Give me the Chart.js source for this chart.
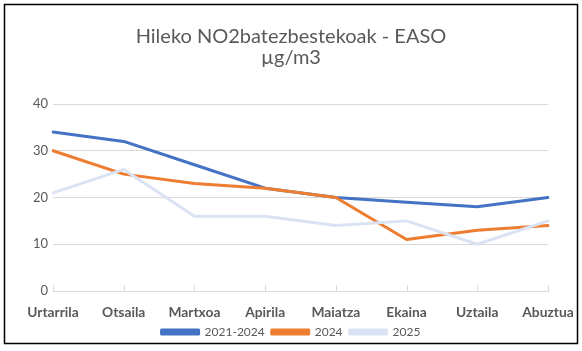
<!DOCTYPE html>
<html>
<head>
<meta charset="utf-8">
<script src="https://cdn.jsdelivr.net/npm/chart.js@4"></script>
<style>
  html, body { margin: 0; padding: 0; background: #fff; }
  #wrap { position: relative; width: 582px; height: 351px; }
</style>
</head>
<body>
<div id="wrap"><canvas id="chartNo2" width="582" height="351"></canvas></div>
<script>
// hilabeteak eta balioak
var hilabeteak  =   ['Urtarrila', 'Otsaila', 'Martxoa', 'Apirila', 'Maiatza', 'Ekaina', 'Uztaila', 'Abuztua'];
var serie2124   =   [34, 32, 27, 22, 20, 19, 18, 20];
var serie2024   =   [30, 25, 23, 22, 20, 11, 13, 14];
var serie2025   =   [21, 26, 16, 16, 14, 15, 10, 15];
var yTicks      =   [0, 10, 20, 30, 40];

var labelColor  =   '#595959';
var gridColor   =   '#D9D9D9';

// Excel style: small tick marks going up from the x axis
var xTickMarks = {
    id: 'xTickMarks',
    beforeDatasetsDraw(chart) {
        var ctx = chart.ctx;
        var x = chart.scales.x;
        var bottom = chart.chartArea.bottom;
        ctx.save();
        ctx.strokeStyle = gridColor;
        ctx.lineWidth = 1;
        x.ticks.forEach((t, i) => {
            var px = Math.round(x.getPixelForTick(i)) + 0.5;
            ctx.beginPath();
            ctx.moveTo(px, bottom - 6);
            ctx.lineTo(px, bottom);
            ctx.stroke();
        });
        ctx.restore();
    }
};

// kanpoko markoa
var frame = {
    id: 'frame',
    afterDraw(chart) {
        var ctx = chart.ctx;
        ctx.save();
        ctx.strokeStyle = '#000';
        ctx.lineWidth = 1.5;
        ctx.strokeRect(4.5, 4.5, 573, 339);
        ctx.restore();
    }
};

var ctxNo2 = document.getElementById('chartNo2').getContext('2d');
new Chart(ctxNo2, {
    type: 'line',
    data: {
        labels: hilabeteak,
        datasets: [{
            label: '2021-2024',
            data: serie2124,
            borderColor: '#4472C4',
            backgroundColor: '#4472C4',
            order: 2
        }, {
            label: '2024',
            data: serie2024,
            borderColor: '#ED7D31',
            backgroundColor: '#ED7D31',
            order: 1
        }, {
            label: '2025',
            data: serie2025,
            borderColor: '#DAE3F3',
            backgroundColor: '#DAE3F3',
            order: 0
        }]
    },
    options: {
        responsive: false,
        animation: false,
        devicePixelRatio: 1,
        layout: { padding: { left: 0, right: 0, top: 4, bottom: 3 } },
        elements: {
            line: { borderWidth: 3, tension: 0, borderCapStyle: 'round', borderJoinStyle: 'round' },
            point: { radius: 0, hoverRadius: 0 }
        },
        plugins: {
            title: {
                display: true,
                text: ['Hileko NO2batezbestekoak - EASO', 'µg/m3'],
                color: labelColor,
                font: { family: 'Lato', size: 20, weight: 'normal', lineHeight: 1.05 },
                padding: { top: 22, bottom: 36 }
            },
            legend: {
                position: 'bottom',
                labels: {
                    color: labelColor,
                    font: { family: 'Lato', size: 12 },
                    boxWidth: 37,
                    boxHeight: 4,
                    padding: 7,
                    sort: (a, b) => a.datasetIndex - b.datasetIndex
                }
            },
            tooltip: { enabled: false }
        },
        scales: {
            x: {
                offset: false,
                afterFit: function (scale) {
                    scale.height = 28;
                    scale.paddingRight = 34;
                },
                grid: { display: false, drawTicks: false },
                border: { display: true, color: gridColor, width: 1 },
                ticks: {
                    color: labelColor,
                    font: { family: 'Lato', size: 13.8, weight: 'bold' },
                    padding: 13,
                    maxRotation: 0,
                    autoSkip: false
                }
            },
            y: {
                min: 0,
                max: 40,
                afterFit: function (scale) { scale.width = 53; },
                afterBuildTicks: function (scale) { scale.ticks = yTicks.map(v => ({ value: v })); },
                grid: { color: gridColor, drawTicks: false },
                border: { display: false },
                ticks: {
                    color: labelColor,
                    font: { family: 'Lato', size: 13 },
                    padding: 5
                }
            }
        }
    },
    plugins: [xTickMarks, frame]
});
</script>
</body>
</html>
